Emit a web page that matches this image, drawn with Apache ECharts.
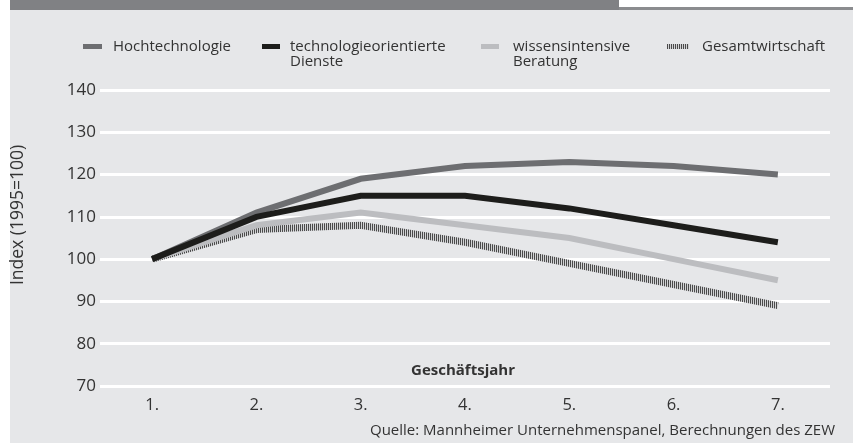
<!DOCTYPE html>
<html><head><meta charset="utf-8">
<script src="https://cdn.jsdelivr.net/npm/echarts@6/dist/echarts.min.js"></script>
<style>html,body{margin:0;padding:0;background:#fff}#c{width:855px;height:443px}</style>
</head><body><div id="c"></div>
<script>
const categories = ['1.', '2.', '3.', '4.', '5.', '6.', '7.'];
const hochtechnologie = [100, 111, 119, 122, 123, 122, 120];
const techDienste = [100, 110, 115, 115, 112, 108, 104];
const wissBeratung = [100, 108, 111, 108, 105, 100, 95];
const gesamtwirtschaft = [100, 107, 108, 104, 99, 94, 89];
const yTicks = { min: 70, max: 140, interval: 10 };

const FONT = '"Open Sans", sans-serif';
const TXT = '#333333';

const pc = document.createElement('canvas');
pc.width = 2; pc.height = 2;
const pctx = pc.getContext('2d');
pctx.fillStyle = '#4a4a4a'; pctx.fillRect(0, 0, 1, 2);
pctx.fillStyle = '#d2d3d5'; pctx.fillRect(1, 0, 1, 2);
const hatch = { image: pc, repeat: 'repeat' };

const chart = echarts.init(document.getElementById('c'), null, { renderer: 'canvas' });

function leg(name, left, w, pad) {
  return {
    left: left, top: 39, padding: 0, itemWidth: w, itemHeight: 5,
    data: [{ name: name, icon: 'rect' }],
    formatter: n => n.split('\n')[0],
    textStyle: { fontFamily: FONT, fontSize: 15, color: TXT, lineHeight: 15, padding: [0, 0, 0, pad] },
    selectedMode: false
  };
}

const names = ['Hochtechnologie', 'technologieorientierte\nDienste', 'wissensintensive\nBeratung', 'Gesamtwirtschaft'];

chart.setOption({
  backgroundColor: '#ffffff',
  animation: false,
  graphic: [
    { type: 'rect', z: -10, shape: { x: 10, y: 10, width: 843, height: 433 }, style: { fill: '#e6e7e9' } },
    { type: 'rect', z: -10, shape: { x: 10, y: 0, width: 609, height: 10 }, style: { fill: '#808184' } },
    { type: 'rect', z: -10, shape: { x: 619, y: 7, width: 234, height: 3 }, style: { fill: '#8b8c8f' } },
    { type: 'text', x: 290, y: 62, style: { text: 'Dienste', font: '15px ' + FONT, fill: TXT, textVerticalAlign: 'middle' } },
    { type: 'text', x: 513, y: 62, style: { text: 'Beratung', font: '15px ' + FONT, fill: TXT, textVerticalAlign: 'middle' } },
    { type: 'text', x: 18, y: 215, rotation: Math.PI / 2, style: { text: 'Index (1995=100)', font: '17.5px ' + FONT, fill: TXT, textAlign: 'center', textVerticalAlign: 'middle' } },
    { type: 'text', x: 463, y: 371, style: { text: 'Geschäftsjahr', font: 'bold 15px ' + FONT, fill: TXT, textAlign: 'center', textVerticalAlign: 'middle' } },
    { type: 'text', x: 835, y: 431, style: { text: 'Quelle: Mannheimer Unternehmenspanel, Berechnungen des ZEW', font: '15px ' + FONT, fill: TXT, textAlign: 'right', textVerticalAlign: 'middle' } }
  ],
  legend: [
    leg(names[0], 83, 19, 6),
    leg(names[1], 262, 18, 5),
    leg(names[2], 481, 18, 9),
    leg(names[3], 667, 22, 8)
  ],
  grid: { left: 100, right: 25, top: 90, bottom: 57 },
  xAxis: {
    type: 'category', data: categories, boundaryGap: true,
    axisLine: { show: false }, axisTick: { show: false },
    axisLabel: { fontFamily: FONT, fontSize: 16.5, color: TXT, margin: 11 }
  },
  yAxis: {
    type: 'value', min: yTicks.min, max: yTicks.max, interval: yTicks.interval,
    axisLine: { show: false }, axisTick: { show: false },
    axisLabel: { fontFamily: FONT, fontSize: 17, color: TXT, margin: 4 },
    splitLine: { lineStyle: { color: '#ffffff', width: 3 } }
  },
  series: [
    { name: names[3], type: 'line', data: gesamtwirtschaft, showSymbol: false, symbol: 'none',
      itemStyle: { color: hatch }, lineStyle: { color: hatch, width: 7, join: 'miter' } },
    { name: names[2], type: 'line', data: wissBeratung, showSymbol: false, symbol: 'none',
      itemStyle: { color: '#bcbdc0' }, lineStyle: { color: '#bcbdc0', width: 6, join: 'miter' } },
    { name: names[0], type: 'line', data: hochtechnologie, showSymbol: false, symbol: 'none',
      itemStyle: { color: '#6d6e71' }, lineStyle: { color: '#6d6e71', width: 6, join: 'miter' } },
    { name: names[1], type: 'line', data: techDienste, showSymbol: false, symbol: 'none',
      itemStyle: { color: '#1d1d1b' }, lineStyle: { color: '#1d1d1b', width: 6, join: 'miter' } }
  ]
});
</script></body></html>
